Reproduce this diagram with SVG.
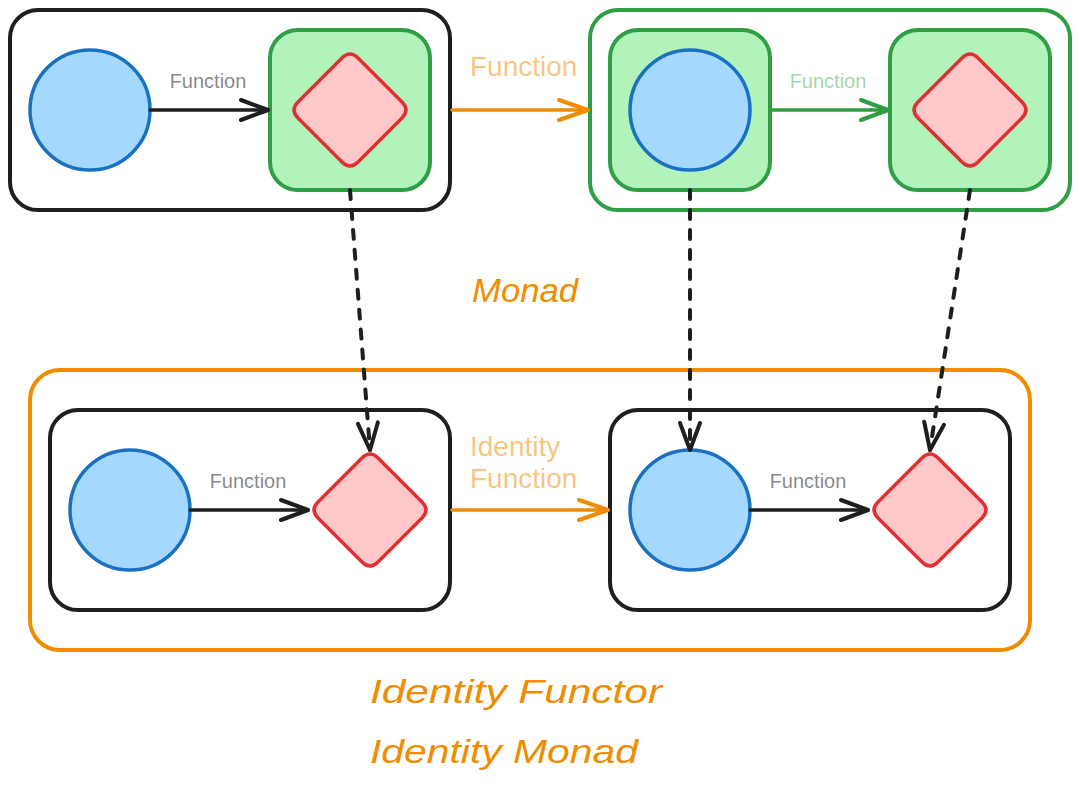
<svg xmlns="http://www.w3.org/2000/svg" width="1080" height="785" viewBox="0 0 1080 785">
<style>
.box{fill:none;stroke-width:4;}
.k{stroke:#1e1e1e;}
.g{stroke:#2f9e44;}
.o{stroke:#f08c00;}
.gbox{fill:#b2f2bb;stroke:#2f9e44;stroke-width:4;}
.circ{fill:#a5d8ff;stroke:#1971c2;stroke-width:3.5;}
.dia{fill:#ffc9c9;stroke:#e03131;stroke-width:3.5;}
.ln{fill:none;stroke-width:3.5;stroke-linecap:round;}
.dash{stroke-dasharray:9 11;stroke-width:4;}
.lbl{font-family:"Liberation Sans",Arial,sans-serif;font-size:20px;text-anchor:middle;}
.big{font-family:"Liberation Sans",Arial,sans-serif;font-size:28px;fill:#f08c00;fill-opacity:0.5;}
.hand{font-family:"Liberation Sans",Arial,sans-serif;font-size:34px;fill:#f08c00;font-style:italic;}
</style>
<defs>
<path id="dm" d="M8,-52 L52,-8 Q60,0 52,8 L8,52 Q0,60 -8,52 L-52,8 Q-60,0 -52,-8 L-8,-52 Q0,-60 8,-52 Z"/>
<marker id="ak" markerUnits="userSpaceOnUse" orient="auto" markerWidth="40" markerHeight="40" overflow="visible">
<path d="M-27,-10 L0,0 L-27,10" fill="none" stroke="#1e1e1e" stroke-width="4" stroke-linecap="round" stroke-linejoin="round"/>
</marker>
<marker id="ag" markerUnits="userSpaceOnUse" orient="auto" markerWidth="40" markerHeight="40" overflow="visible">
<path d="M-27,-10 L0,0 L-27,10" fill="none" stroke="#2f9e44" stroke-width="4" stroke-linecap="round" stroke-linejoin="round"/>
</marker>
<marker id="ao" markerUnits="userSpaceOnUse" orient="auto" markerWidth="40" markerHeight="40" overflow="visible">
<path d="M-29,-10 L0,0 L-29,10" fill="none" stroke="#f08c00" stroke-width="4" stroke-linecap="round" stroke-linejoin="round"/>
</marker>
</defs>
<rect width="1080" height="785" fill="#ffffff"/>

<g id="identity-container">
<rect class="box o" x="30" y="370" width="1000" height="280" rx="30"/>
</g>

<g id="top-left">
<rect class="box k" x="10" y="10" width="440" height="200" rx="28"/>
<circle class="circ" cx="90" cy="110" r="60"/>
<rect class="gbox" x="270" y="30" width="160" height="160" rx="28"/>
<use href="#dm" class="dia" x="350" y="110"/>
</g>

<g id="top-right">
<rect class="box g" x="590" y="10" width="480" height="200" rx="28"/>
<rect class="gbox" x="610" y="30" width="160" height="160" rx="28"/>
<circle class="circ" cx="690" cy="110" r="60"/>
<rect class="gbox" x="890" y="30" width="160" height="160" rx="28"/>
<use href="#dm" class="dia" x="970" y="110"/>
</g>

<g id="bottom-left">
<rect class="box k" x="50" y="410" width="400" height="200" rx="28"/>
<circle class="circ" cx="130" cy="510" r="60"/>
<use href="#dm" class="dia" x="370" y="510"/>
</g>

<g id="bottom-right">
<rect class="box k" x="610" y="410" width="400" height="200" rx="28"/>
<circle class="circ" cx="690" cy="510" r="60"/>
<use href="#dm" class="dia" x="930" y="510"/>
</g>

<g id="connectors">
<line class="ln k" x1="150" y1="110" x2="268" y2="110" marker-end="url(#ak)"/>
<line class="ln o" x1="452" y1="110" x2="588" y2="110" marker-end="url(#ao)"/>
<line class="ln g" x1="772" y1="110" x2="888" y2="110" marker-end="url(#ag)"/>
<line class="ln k" x1="190" y1="510" x2="308" y2="510" marker-end="url(#ak)"/>
<line class="ln o" x1="452" y1="510" x2="608" y2="510" marker-end="url(#ao)"/>
<line class="ln k" x1="750" y1="510" x2="868" y2="510" marker-end="url(#ak)"/>
<line class="ln k dash" x1="350" y1="190" x2="370" y2="450" marker-end="url(#ak)"/>
<line class="ln k dash" x1="690" y1="190" x2="690" y2="450" marker-end="url(#ak)"/>
<line class="ln k dash" x1="970" y1="190" x2="930" y2="450" marker-end="url(#ak)"/>
</g>

<g id="labels">
<text class="lbl" x="208" y="88" fill="#1e1e1e" fill-opacity="0.55">Function</text>
<text class="lbl" x="828" y="88" fill="#2f9e44" fill-opacity="0.45">Function</text>
<text class="lbl" x="248" y="488" fill="#1e1e1e" fill-opacity="0.55">Function</text>
<text class="lbl" x="808" y="488" fill="#1e1e1e" fill-opacity="0.55">Function</text>
<text class="big" x="470" y="76">Function</text>
<text class="big" x="470" y="456">Identity</text>
<text class="big" x="470" y="488">Function</text>
</g>

<g id="titles">
<text class="hand" x="472" y="302" textLength="106" lengthAdjust="spacingAndGlyphs">Monad</text>
<text class="hand" x="370" y="703" textLength="292" lengthAdjust="spacingAndGlyphs">Identity Functor</text>
<text class="hand" x="370" y="763" textLength="268" lengthAdjust="spacingAndGlyphs">Identity Monad</text>
</g>
</svg>
